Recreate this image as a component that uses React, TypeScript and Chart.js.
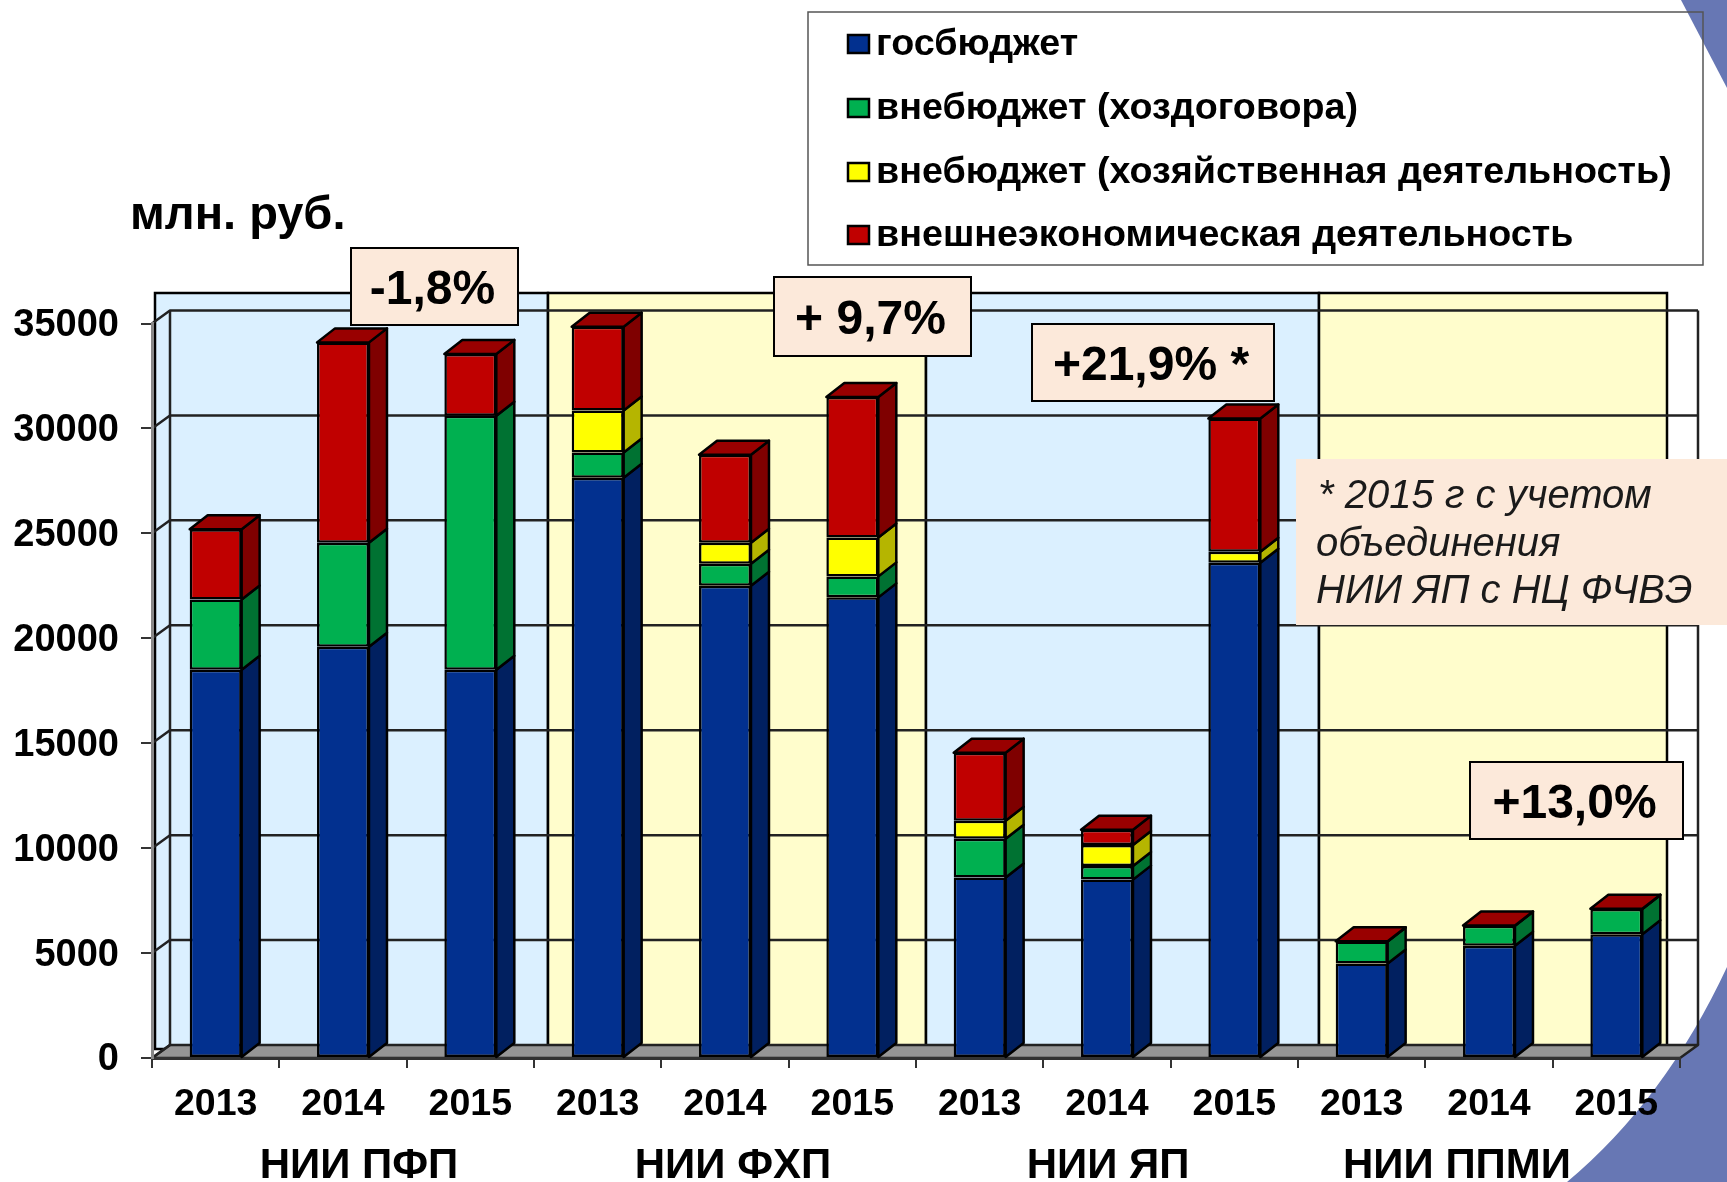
import React, { useEffect, useRef } from "react";
import { Chart, registerables } from "chart.js";

Chart.register(...registerables);

const years = ["2013", "2014", "2015", "2013", "2014", "2015", "2013", "2014", "2015", "2013", "2014", "2015"];
const budget = [18500, 19600, 18500, 27650, 22500, 21950, 8600, 8500, 23600, 4500, 5350, 5900];
const contract = [3350, 4950, 12100, 1200, 1050, 1000, 1850, 650, 0, 1050, 950, 1200];
const economic = [0, 0, 0, 2000, 1000, 1850, 850, 1000, 520, 0, 0, 0];
const foreign = [3350, 9550, 2950, 4000, 4200, 6700, 3250, 730, 6350, 15, 15, 15];
const seriesNames = [
  "госбюджет",
  "внебюджет (хоздоговора)",
  "внебюджет (хозяйственная деятельность)",
  "внешнеэкономическая деятельность",
];
const groupNames = ["НИИ ПФП", "НИИ ФХП", "НИИ ЯП", "НИИ ППМИ"];
const growthLabels = ["-1,8%", "+ 9,7%", "+21,9% *", "+13,0%"];
const noteLines = ["* 2015 г с учетом", "объединения", "НИИ ЯП с НЦ ФЧВЭ"];

const FONT = '"Liberation Sans", Arial, sans-serif';
const FRONT = ["#02308F", "#00B050", "#FFFF00", "#C00000"];
const SIDE = ["#012060", "#007232", "#B5B500", "#7F0000"];
const TOP = ["#01277A", "#008A3E", "#CFCF00", "#990000"];
const DX = 18;
const DY = 13;
const BAR_DY = 14;

const panelBands: [number, number, string][] = [
  [155, 548, "#DBF0FF"],
  [548, 926, "#FFFDCC"],
  [926, 1319, "#DBF0FF"],
  [1319, 1667, "#FFFDCC"],
];
const growthBoxes: [number, number, number, number][] = [
  [351, 248, 167, 77],
  [774, 277, 197, 79],
  [1032, 324, 242, 77],
  [1470, 762, 213, 77],
];
const groupCentres = [359, 733, 1108, 1457];
const legendRows = [45, 109, 173, 236];

function poly(ctx: CanvasRenderingContext2D, pts: number[][], fill: string | null, stroke: string | null, lw = 2) {
  ctx.beginPath();
  pts.forEach((p, i) => (i ? ctx.lineTo(p[0], p[1]) : ctx.moveTo(p[0], p[1])));
  ctx.closePath();
  if (fill) {
    ctx.fillStyle = fill;
    ctx.fill();
  }
  if (stroke) {
    ctx.strokeStyle = stroke;
    ctx.lineWidth = lw;
    ctx.lineJoin = "round";
    ctx.stroke();
  }
}

const backdrop = {
  id: "backdrop",
  beforeDraw(chart: any) {
    const { ctx, chartArea: a, scales } = chart;
    ctx.save();
    ctx.fillStyle = "#fff";
    ctx.fillRect(0, 0, chart.width, chart.height);

    ctx.fillStyle = "#6777B4";
    ctx.beginPath();
    ctx.moveTo(1681, 0);
    ctx.lineTo(1727, 0);
    ctx.lineTo(1727, 88);
    ctx.closePath();
    ctx.fill();
    ctx.beginPath();
    ctx.moveTo(1727, 967);
    ctx.quadraticCurveTo(1665, 1100, 1567, 1182);
    ctx.lineTo(1727, 1182);
    ctx.closePath();
    ctx.fill();

    panelBands.forEach(([l, r, c]) => {
      ctx.fillStyle = c;
      ctx.fillRect(l, 293, r - l, 756);
      ctx.strokeStyle = "#000";
      ctx.lineWidth = 2.5;
      ctx.strokeRect(l, 293, r - l, 756);
    });

    poly(
      ctx,
      [
        [a.left, a.bottom],
        [a.left + DX, a.bottom - DY],
        [a.right + DX, a.bottom - DY],
        [a.right, a.bottom],
      ],
      "#969696",
      "#222",
      2.5
    );

    const y = scales.y;
    ctx.strokeStyle = "#222";
    ctx.lineWidth = 2.5;
    y.ticks.forEach((t: any, i: number) => {
      const py = y.getPixelForTick(i);
      ctx.beginPath();
      ctx.moveTo(a.left, py);
      ctx.lineTo(a.left + DX, py - DY);
      if (i > 0) ctx.lineTo(a.right + DX, py - DY);
      ctx.stroke();
    });
    ctx.beginPath();
    ctx.moveTo(a.left + DX, a.bottom - DY);
    ctx.lineTo(a.left + DX, a.top - DY);
    ctx.moveTo(a.right + DX, a.bottom - DY);
    ctx.lineTo(a.right + DX, a.top - DY);
    ctx.stroke();
    ctx.restore();
  },
};

const depth = {
  id: "depth",
  beforeDatasetsDraw(chart: any) {
    const { ctx } = chart;
    ctx.save();
    chart.data.datasets.forEach((ds: any, di: number) => {
      chart.getDatasetMeta(di).data.forEach((bar: any, i: number) => {
        if (!ds.data[i]) return;
        const { x, y, base, width } = bar.getProps(["x", "y", "base", "width"], true);
        const l = x - width / 2;
        const r = x + width / 2;
        poly(
          ctx,
          [
            [r, y],
            [r + DX, y - BAR_DY],
            [r + DX, base - BAR_DY],
            [r, base],
          ],
          SIDE[di],
          "#000",
          2.5
        );
        const isTop = chart.data.datasets.slice(di + 1).every((d: any) => !d.data[i]);
        if (isTop) {
          poly(
            ctx,
            [
              [l, y],
              [l + DX, y - BAR_DY],
              [r + DX, y - BAR_DY],
              [r, y],
            ],
            TOP[di],
            "#000",
            2.5
          );
        }
      });
    });
    ctx.restore();
  },
};

const overlays = {
  id: "overlays",
  afterDraw(chart: any) {
    const { ctx } = chart;
    ctx.save();
    ctx.textBaseline = "middle";

    ctx.fillStyle = "#000";
    ctx.textAlign = "left";
    ctx.font = `bold 47px ${FONT}`;
    ctx.fillText("млн. руб.", 130, 216);

    ctx.textAlign = "center";
    ctx.font = `bold 42px ${FONT}`;
    groupNames.forEach((n, i) => ctx.fillText(n, groupCentres[i], 1166));

    ctx.strokeStyle = "#555";
    ctx.lineWidth = 1.5;
    ctx.strokeRect(808, 12, 895, 253);
    ctx.textAlign = "left";
    ctx.font = `bold 37.7px ${FONT}`;
    chart.data.datasets.forEach((ds: any, i: number) => {
      const y = legendRows[i];
      ctx.fillStyle = FRONT[i];
      ctx.fillRect(848, y - 10, 21, 18);
      ctx.strokeStyle = "#000";
      ctx.lineWidth = 2.5;
      ctx.strokeRect(848, y - 10, 21, 18);
      ctx.fillStyle = "#000";
      ctx.fillText(ds.label, 876, y);
    });

    ctx.fillStyle = "#FCE9DA";
    ctx.fillRect(1296, 459, 431, 166);
    ctx.fillStyle = "#1a1a1a";
    ctx.font = `italic 40px ${FONT}`;
    ctx.fillText(noteLines[0], 1318, 497);
    ctx.fillText(noteLines[1], 1316, 545);
    ctx.fillText(noteLines[2], 1316, 592);

    ctx.textAlign = "center";
    ctx.font = `bold 48px ${FONT}`;
    growthBoxes.forEach(([x, y, w, h], i) => {
      ctx.fillStyle = "#FCE9DA";
      ctx.fillRect(x, y, w, h);
      ctx.strokeStyle = "#000";
      ctx.lineWidth = 2;
      ctx.strokeRect(x, y, w, h);
      ctx.fillStyle = "#000";
      ctx.fillText(growthLabels[i], x + w / 2 - 2, y + h / 2 + 4);
    });
    ctx.restore();
  },
};

export default function App() {
  const ref = useRef<HTMLCanvasElement>(null);
  useEffect(() => {
    const values = [budget, contract, economic, foreign];
    const chart = new Chart(ref.current!, {
      type: "bar",
      data: {
        labels: years,
        datasets: seriesNames.map((label, i) => ({
          label,
          data: values[i],
          backgroundColor: FRONT[i],
          borderColor: "#000",
          borderWidth: 2.5,
          borderSkipped: false,
          barPercentage: 0.408,
          categoryPercentage: 1,
        })),
      },
      options: {
        responsive: false,
        animation: false,
        layout: { padding: { top: 323.5, right: 47, left: 0, bottom: 0 } },
        plugins: { legend: { display: false }, tooltip: { enabled: false }, title: { display: false } },
        scales: {
          x: {
            stacked: true,
            afterFit: (s: any) => {
              s.height = 124;
            },
            grid: {
              drawOnChartArea: false,
              drawTicks: true,
              tickLength: 10,
              color: "#333",
              offset: true,
              lineWidth: 2,
            },
            border: { color: "#333", width: 3 },
            ticks: {
              color: "#000",
              autoSkip: false,
              maxRotation: 0,
              padding: 14,
              font: { family: FONT, size: 37.5, weight: "bold" },
            },
          },
          y: {
            stacked: true,
            min: 0,
            max: 35000,
            afterFit: (s: any) => {
              s.width = 152;
            },
            grid: { drawOnChartArea: false, tickLength: 11, color: "#333", lineWidth: 2 },
            border: { color: "#888", width: 3 },
            ticks: {
              stepSize: 5000,
              color: "#000",
              padding: 22,
              labelOffset: 2,
              callback: (v: any) => String(v),
              font: { family: FONT, size: 38, weight: "bold" },
            },
          },
        },
      },
      plugins: [backdrop, depth, overlays],
    } as any);
    return () => chart.destroy();
  }, []);
  return (
    <div style={{ position: "fixed", inset: 0, background: "#fff" }}>
      <canvas ref={ref} width={1727} height={1182} style={{ display: "block" }} />
    </div>
  );
}
